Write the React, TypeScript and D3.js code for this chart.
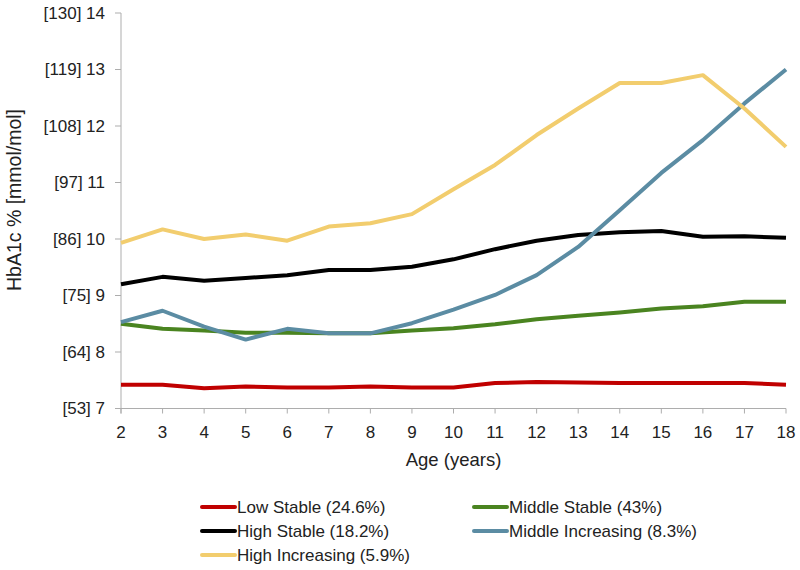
import React from "react";
import * as d3 from "d3";

const ages = [2, 3, 4, 5, 6, 7, 8, 9, 10, 11, 12, 13, 14, 15, 16, 17, 18];
const lowStable = [7.42, 7.42, 7.36, 7.39, 7.37, 7.37, 7.39, 7.37, 7.37, 7.45, 7.47, 7.46, 7.45, 7.45, 7.45, 7.45, 7.42];
const middleStable = [8.5, 8.41, 8.38, 8.34, 8.34, 8.33, 8.33, 8.38, 8.42, 8.49, 8.58, 8.64, 8.7, 8.77, 8.81, 8.89, 8.89];
const highStable = [9.2, 9.33, 9.26, 9.31, 9.36, 9.45, 9.45, 9.51, 9.64, 9.82, 9.97, 10.07, 10.12, 10.14, 10.04, 10.05, 10.02];
const middleIncreasing = [8.53, 8.73, 8.45, 8.22, 8.41, 8.33, 8.33, 8.51, 8.75, 9.01, 9.36, 9.86, 10.51, 11.17, 11.75, 12.4, 13.0];
const highIncreasing = [9.93, 10.17, 10.0, 10.08, 9.97, 10.22, 10.28, 10.44, 10.88, 11.31, 11.84, 12.31, 12.76, 12.76, 12.9, 12.31, 11.63];

const yTicks = [7, 8, 9, 10, 11, 12, 13, 14];
const yTickLabels = ["[53] 7", "[64] 8", "[75] 9", "[86] 10", "[97] 11", "[108] 12", "[119] 13", "[130] 14"];

const seriesNames = [
  "Low Stable (24.6%)",
  "Middle Stable (43%)",
  "High Stable (18.2%)",
  "Middle Increasing (8.3%)",
  "High Increasing (5.9%)",
];
const seriesColors = ["#C00000", "#4A8420", "#000000", "#5B8CA3", "#F2CD6E"];
const seriesValues = [lowStable, middleStable, highStable, middleIncreasing, highIncreasing];
// draw order: back to front
const drawOrder = [0, 1, 2, 3, 4];

export default function App() {
  const W = 800;
  const H = 570;
  const left = 121;
  const right = 786;
  const top = 13;
  const bottom = 408.5;

  const x = d3.scaleLinear().domain([2, 18]).range([left, right]);
  const y = d3.scaleLinear().domain([7, 14]).range([bottom, top]);

  const line = d3
    .line<number>()
    .x((_, i) => x(ages[i]))
    .y((d) => y(d));

  const font = "Arial, 'Liberation Sans', sans-serif";
  const axisColor = "#ADADAD";
  const textColor = "#222";

  const legendItems = [
    { idx: 0, lx: 202, ly: 507 },
    { idx: 1, lx: 474, ly: 507 },
    { idx: 2, lx: 202, ly: 531 },
    { idx: 3, lx: 474, ly: 531 },
    { idx: 4, lx: 202, ly: 555 },
  ];

  return (
    <svg
      width={W}
      height={H}
      style={{ position: "absolute", left: 0, top: 0, background: "#fff" }}
      fontFamily={font}
    >
      <rect width={W} height={H} fill="#fff" />
      {/* Y axis */}
      <line x1={left} x2={left} y1={y(14)} y2={y(7) + 5} stroke={axisColor} strokeWidth={1} />
      {yTicks.map((t, i) => (
        <g key={"yt" + t}>
          <line x1={left - 6} x2={left} y1={y(t)} y2={y(t)} stroke={axisColor} strokeWidth={1} />
          <text
            x={105}
            y={y(t)}
            textAnchor="end"
            dominantBaseline="central"
            fontSize={17}
            fill={textColor}
          >
            {yTickLabels[i]}
          </text>
        </g>
      ))}
      {/* X axis */}
      <line x1={left} x2={right} y1={bottom} y2={bottom} stroke={axisColor} strokeWidth={1} />
      {ages.map((a) => (
        <g key={"xt" + a}>
          <line x1={x(a)} x2={x(a)} y1={bottom} y2={bottom + 5} stroke={axisColor} strokeWidth={1} />
          <text x={x(a)} y={438} textAnchor="middle" fontSize={17} fill={textColor}>
            {a}
          </text>
        </g>
      ))}
      <text x={(left + right) / 2} y={466} textAnchor="middle" fontSize={18.5} fill={textColor}>
        Age (years)
      </text>
      <text
        transform={`translate(21, 200) rotate(-90)`}
        textAnchor="middle"
        fontSize={19.5}
        fill={textColor}
      >
        HbA1c % [mmol/mol]
      </text>
      {/* Lines */}
      {drawOrder.map((s) => (
        <path
          key={"s" + s}
          d={line(seriesValues[s]) || ""}
          fill="none"
          stroke={seriesColors[s]}
          strokeWidth={4}
          strokeLinejoin="round"
        />
      ))}
      {/* Legend */}
      {legendItems.map((it) => (
        <g key={"lg" + it.idx}>
          <line
            x1={it.lx}
            x2={it.lx + 33}
            y1={it.ly}
            y2={it.ly}
            stroke={seriesColors[it.idx]}
            strokeWidth={4}
            strokeLinecap="round"
          />
          <text x={it.lx + 35} y={it.ly} dominantBaseline="central" fontSize={17} fill={textColor}>
            {seriesNames[it.idx]}
          </text>
        </g>
      ))}
    </svg>
  );
}
